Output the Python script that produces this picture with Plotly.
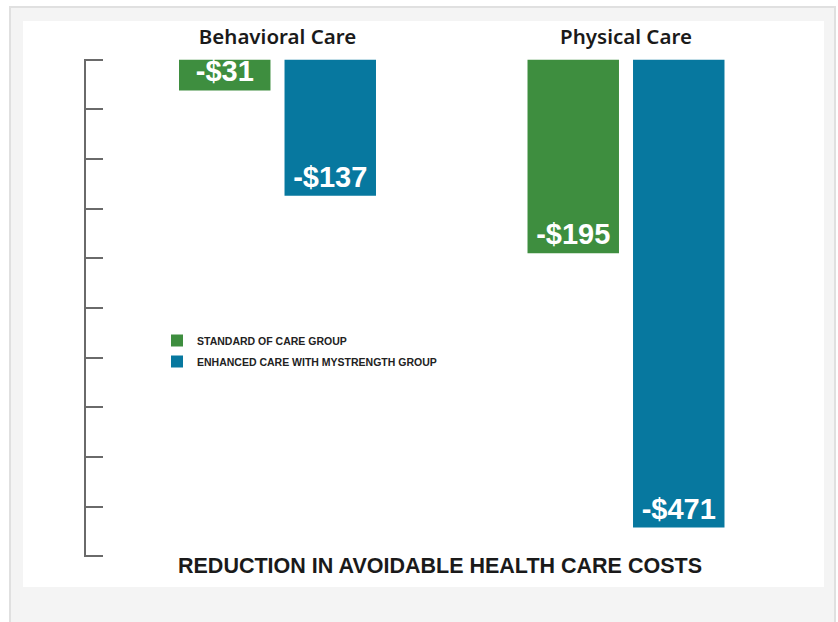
import plotly.graph_objects as go

# ---- data ----
categories = ["Behavioral Care", "Physical Care"]
standard_care = [-31, -195]
enhanced_care = [-137, -471]
series_names = ["STANDARD OF CARE GROUP", "ENHANCED CARE WITH MYSTRENGTH GROUP"]
chart_title = "REDUCTION IN AVOIDABLE HEALTH CARE COSTS"

GREEN = "#3e8e3f"
BLUE = "#07789f"

W, H = 838, 622
ML, MR, MT, MB = 85, 13, 59, 65
PW, PH = W - ML - MR, H - MT - MB


def px_x(x):
    return (x - ML) / PW


def px_y(y):
    return (H - MB - y) / PH


def money(v):
    return "-$" + str(abs(v))


label_font = dict(family="Liberation Sans", size=29, color="white", weight="bold")

fig = go.Figure()
fig.add_trace(go.Bar(
    x=categories, y=standard_care, name=series_names[0],
    marker=dict(color=GREEN, line=dict(width=0)),
    text=[money(v) for v in standard_care],
    textposition="inside", insidetextanchor="end",
    textfont=label_font, legendgroup="a",
))
fig.add_trace(go.Bar(
    x=categories, y=enhanced_care, name=series_names[1],
    marker=dict(color=BLUE, line=dict(width=0)),
    text=[money(v) for v in enhanced_care],
    textposition="inside", insidetextanchor="end",
    textfont=label_font, legendgroup="b",
))

shapes = [
    dict(type="rect", xref="paper", yref="paper", layer="below",
         x0=px_x(10), x1=px_x(835), y0=px_y(660), y1=px_y(7),
         fillcolor="#f4f4f4", line=dict(color="#e0e0e0", width=2)),
    dict(type="rect", xref="paper", yref="paper", layer="below",
         x0=px_x(23), x1=px_x(824), y0=px_y(587), y1=px_y(21),
         fillcolor="white", line=dict(width=0)),
]

# category centres at x=277.5px and x=626px
unit = 348.5
x_lo = -(277.5 - ML) / unit
x_hi = x_lo + PW / unit

fig.update_layout(
    width=W, height=H,
    margin=dict(l=ML, r=MR, t=MT, b=MB, pad=0),
    paper_bgcolor="white", plot_bgcolor="white",
    barmode="group", bargap=0.3945, bargroupgap=0.133,
    uniformtext=dict(minsize=29, mode="show"),
    shapes=shapes,
    showlegend=True,
    legend=dict(
        x=px_x(157), y=px_y(326), xanchor="left", yanchor="top",
        bgcolor="rgba(0,0,0,0)", borderwidth=0,
        font=dict(family="Liberation Sans", size=10.5, color="#222222", weight="bold"),
        traceorder="grouped", tracegroupgap=2,
    ),
    xaxis=dict(
        type="category", side="top", range=[x_lo, x_hi],
        showline=False, ticks="", showgrid=False, zeroline=False,
        tickfont=dict(family="Noto Sans", size=20.5, color="#1a1a1a", weight=600),
        ticklabelstandoff=10,
    ),
    yaxis=dict(
        range=[-500.7, 0.7], tick0=0, dtick=50,
        anchor="free", position=0, side="right",
        showline=True, linecolor="#6a6a6a", linewidth=1.5,
        ticks="outside", ticklen=17, tickwidth=1.5, tickcolor="#6a6a6a",
        showticklabels=False, showgrid=False, zeroline=False,
    ),
    annotations=[
        dict(text=chart_title, xref="paper", yref="paper",
             x=px_x(440), y=px_y(566), xanchor="center", yanchor="middle",
             showarrow=False,
             font=dict(family="Liberation Sans", size=21.5, color="#1a1a1a", weight="bold")),
    ],
)

fig.write_html("out.html")
